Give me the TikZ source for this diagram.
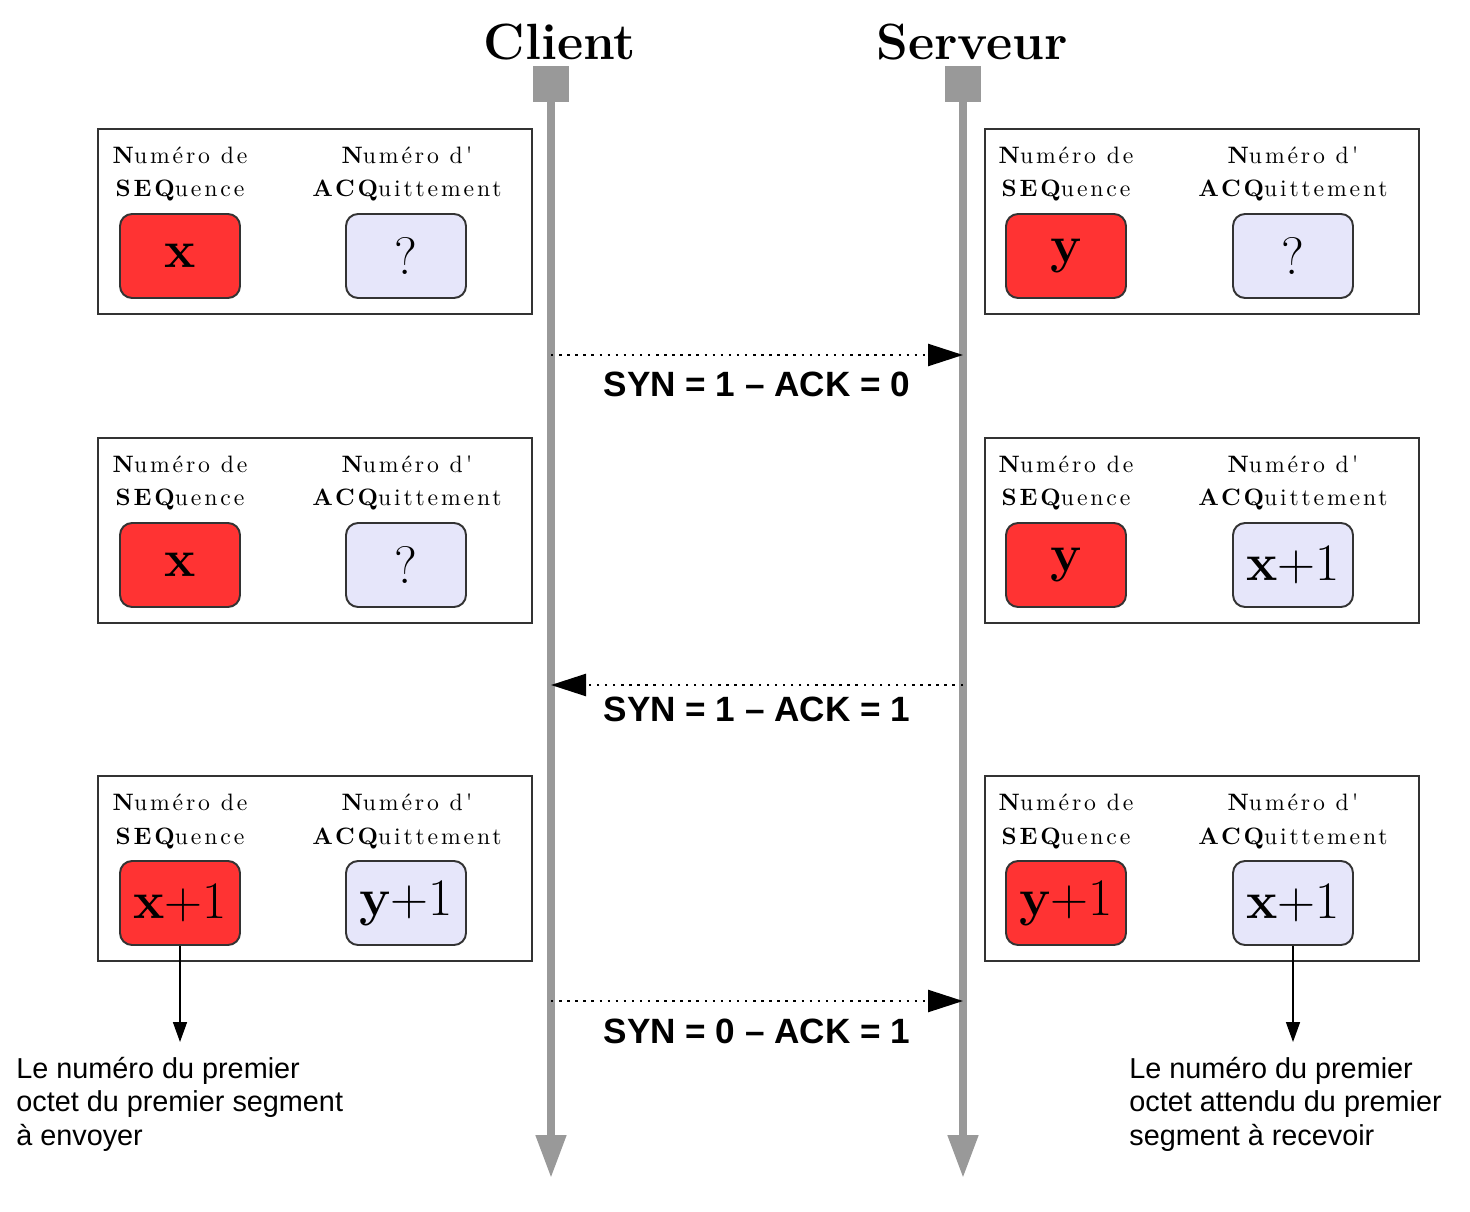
\documentclass[tikz,border=0pt]{standalone}
\usepackage{fontspec}
\newfontfamily\arialfont{Liberation Sans}
\newfontfamily\headfont{lmroman10-regular.otf}[BoldFont=lmroman10-bold.otf, LetterSpace=12]
\usetikzlibrary{arrows.meta,positioning}

\definecolor{seqred}{RGB}{255,51,51}
\definecolor{acklav}{RGB}{230,230,250}
\definecolor{lifegray}{RGB}{153,153,153}
\definecolor{edgegray}{RGB}{51,51,51}

\tikzset{
  frame/.style={draw=edgegray, line width=1.1pt, minimum width=8.68cm,
    minimum height=3.7cm, anchor=north west, inner sep=0pt},
  valbox/.style={draw=edgegray, line width=1.1pt, rounded corners=0.24cm,
    minimum width=2.4cm, minimum height=1.68cm, inner sep=0pt,
    font=\fontsize{30}{36}\selectfont},
  seqbox/.style={valbox, fill=seqred},
  ackbox/.style={valbox, fill=acklav},
  head/.style={align=center, anchor=base, inner sep=0pt,
    font=\headfont\fontsize{13.5}{19}\selectfont},
  title/.style={font=\fontsize{29}{30}\selectfont\bfseries, anchor=base},
  lifetop/.style={fill=lifegray, minimum size=0.72cm, inner sep=0pt},
  life/.style={draw=lifegray, line width=4.5pt,
    -{Triangle[length=0.86cm, width=0.58cm]}},
  msg/.style={line width=1.4pt, dash pattern=on 1.4pt off 3.2pt,
    -{Triangle[length=0.7cm, width=0.44cm]}},
  msglabel/.style={font=\arialfont\bfseries\fontsize{20}{24}\selectfont, anchor=base},
  note/.style={line width=0.9pt, -{Triangle[length=0.4cm, width=0.28cm]}},
  notetext/.style={font=\arialfont\fontsize{16.4}{18.8}\selectfont,
    align=left, anchor=base west, inner sep=0pt}
}

\begin{document}
\begin{tikzpicture}[x=0.02cm, y=-0.02cm]

  \useasboundingbox (0,0) rectangle (1470,1212);

  \def\cx{551}   % client lifeline
  \def\sx{963}   % server lifeline

  % ----------------------------------------------------------------
  % Lifelines
  % ----------------------------------------------------------------
  \node[title] (client) at (560,60) {Client};
  \node[title] (serveur) at (972,60) {Serveur};

  \node[lifetop] (ctop) at (\cx,84) {};
  \node[lifetop] (stop) at (\sx,84) {};
  \coordinate (cend) at (\cx,1178);
  \coordinate (send) at (\sx,1178);
  \draw[life] (ctop) -- (cend);
  \draw[life] (stop) -- (send);

  % ----------------------------------------------------------------
  % Sequence / acknowledgement boxes on both sides
  % ----------------------------------------------------------------
  \foreach \r/\t/\sa/\aa/\sb/\ab in {%
    1/128/{\bfseries x}/?/{\bfseries y}/?,
    2/437/{\bfseries x}/?/{\bfseries y}/{\bfseries x}+1,
    3/775/{\bfseries x}+1/{\bfseries y}+1/{\bfseries y}+1/{\bfseries x}+1}{
    % client side
    \node[frame] (fl\r) at (97,\t) {};
    \node[seqbox] (seql\r) at (180,\t+128) {\sa};
    \node[ackbox] (ackl\r) at (406,\t+128) {\aa};
    \node[head] at (180,\t+69) {{\bfseries N}uméro de\\{\bfseries SEQ}uence};
    \node[head] at (407,\t+69) {{\bfseries N}uméro d'\\{\bfseries ACQ}uittement};
    % server side
    \node[frame] (fr\r) at (984,\t) {};
    \node[seqbox] (seqr\r) at (1066,\t+128) {\sb};
    \node[ackbox] (ackr\r) at (1293,\t+128) {\ab};
    \node[head] at (1066,\t+69) {{\bfseries N}uméro de\\{\bfseries SEQ}uence};
    \node[head] at (1293,\t+69) {{\bfseries N}uméro d'\\{\bfseries ACQ}uittement};
  }

  % ----------------------------------------------------------------
  % Handshake messages
  % ----------------------------------------------------------------
  \coordinate (c1) at (\cx,355);  \coordinate (s1) at (\sx,355);
  \coordinate (c2) at (\cx,685);  \coordinate (s2) at (\sx,685);
  \coordinate (c3) at (\cx,1001); \coordinate (s3) at (\sx,1001);

  \draw[msg] (c1) -- (s1);
  \draw[msg] (s2) -- (c2);
  \draw[msg] (c3) -- (s3);

  \node[msglabel] (m1) at (757,397)  {SYN = 1 – ACK = 0};
  \node[msglabel] (m2) at (757,721)  {SYN = 1 – ACK = 1};
  \node[msglabel] (m3) at (757,1043) {SYN = 0 – ACK = 1};

  % ----------------------------------------------------------------
  % Notes under the last boxes
  % ----------------------------------------------------------------
  \coordinate (nl) at (180,1042);
  \coordinate (nr) at (1293,1042);
  \draw[note] (seql3.south) -- (nl);
  \draw[note] (ackr3.south) -- (nr);

  \node[notetext] (tl) at (16,1145)
    {Le numéro du premier\\octet du premier segment\\à envoyer};
  \node[notetext] (tr) at (1129,1145)
    {Le numéro du premier\\octet attendu du premier\\segment à recevoir};

\end{tikzpicture}
\end{document}
